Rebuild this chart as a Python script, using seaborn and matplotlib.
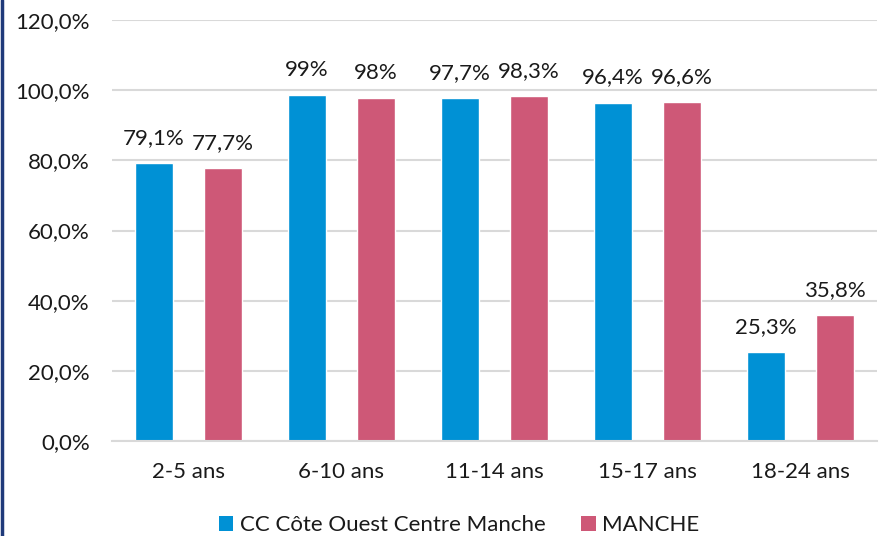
import matplotlib
matplotlib.use("Agg")
import matplotlib.pyplot as plt
import seaborn as sns
import pandas as pd
from matplotlib.lines import Line2D
from matplotlib.patches import Patch

categories = ["2-5 ans", "6-10 ans", "11-14 ans", "15-17 ans", "18-24 ans"]
series_names = ["CC Côte Ouest Centre Manche", "MANCHE"]
cc_values = [79.1, 98.6, 97.7, 96.4, 25.3]
manche_values = [77.7, 97.8, 98.3, 96.6, 35.8]
cc_labels = ["79,1%", "99%", "97,7%", "96,4%", "25,3%"]
manche_labels = ["77,7%", "98%", "98,3%", "96,6%", "35,8%"]
yticks = [0, 20, 40, 60, 80, 100, 120]
ytick_labels = ["0,0%", "20,0%", "40,0%", "60,0%", "80,0%", "100,0%", "120,0%"]
colors = ["#0091D5", "#CE5877"]

df = pd.DataFrame({
    "cat": categories * 2,
    "serie": [series_names[0]] * 5 + [series_names[1]] * 5,
    "val": cc_values + manche_values,
})

sns.set_theme(style="white")
plt.rcParams["font.family"] = ["Lato", "DejaVu Sans"]

FS = 16
fig = plt.figure(figsize=(8.82, 5.36), dpi=100)
ax = fig.add_axes([112 / 882, 95 / 536, 765 / 882, 421 / 536])

sns.barplot(data=df, x="cat", y="val", hue="serie", palette=colors,
            width=0.9, gap=0.45, ax=ax, legend=False, saturation=1)

ax.set_ylim(0, 120)
ax.set_xlim(-0.5, 4.5)
ax.set_yticks(yticks)
ax.set_yticklabels(ytick_labels, fontsize=FS, color="#1a1a1a")
ax.tick_params(axis="x", labelsize=FS, colors="#1a1a1a", length=0, pad=15)
ax.tick_params(axis="y", length=0, pad=16)
ax.set_xlabel("")
ax.set_ylabel("")
ax.grid(axis="y", color="#D9D9D9", linewidth=1.5)
ax.set_axisbelow(True)
for s in ["top", "right", "left"]:
    ax.spines[s].set_visible(False)
ax.spines["bottom"].set_color("#D9D9D9")
ax.spines["bottom"].set_linewidth(1.5)

for container, labels in zip(ax.containers, [cc_labels, manche_labels]):
    ax.bar_label(container, labels=labels, padding=11, fontsize=FS, color="#1a1a1a")

handles = [Patch(facecolor=c, edgecolor="none") for c in colors]
fig.legend(handles, series_names, loc="center", bbox_to_anchor=(459 / 882, 1 - 525 / 536),
           ncol=2, frameon=False, fontsize=FS, handlelength=0.65, handleheight=0.65,
           handletextpad=0.3, columnspacing=1.6, labelcolor="#1a1a1a")

fig.add_artist(Line2D([1.5 / 882, 1.5 / 882], [0, 1], transform=fig.transFigure,
                      color="#1F3A7A", linewidth=2.5))

fig.savefig("out.png", dpi=100)
